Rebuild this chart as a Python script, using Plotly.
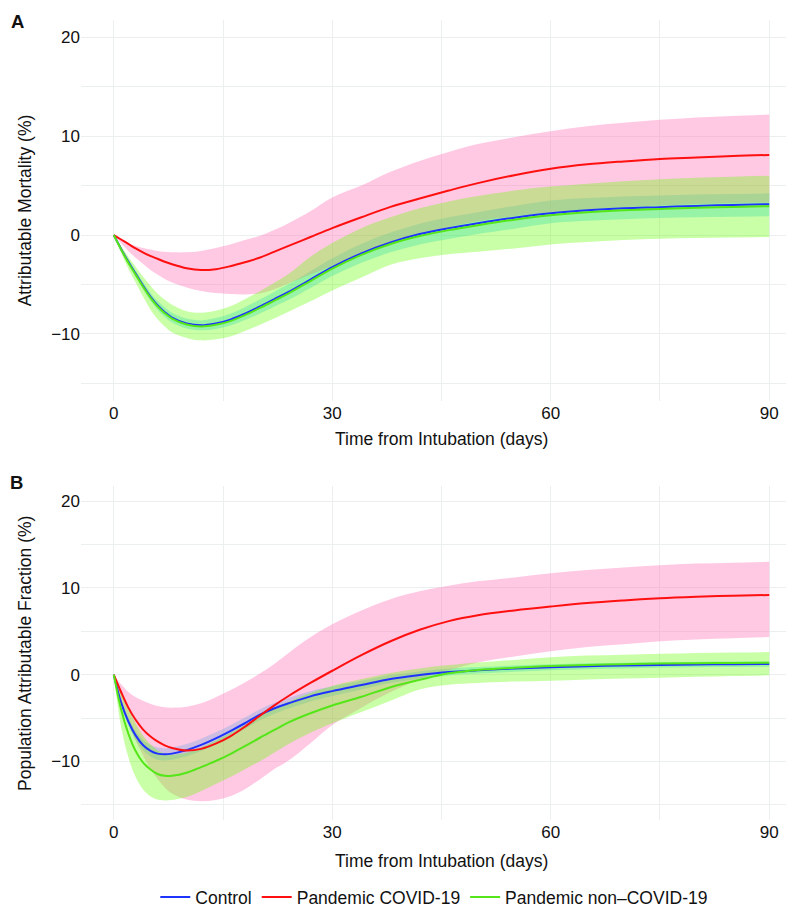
import plotly.graph_objects as go

# ---------------- data ----------------
days = [0, 1, 2, 3, 4, 5, 6, 7, 8, 10, 12, 14, 16, 18, 20, 22, 24, 27, 30, 34,
        38, 42, 46, 50, 55, 60, 65, 70, 75, 80, 85, 90]

series_names = ["Control", "Pandemic COVID-19", "Pandemic non\u2013COVID-19"]

# Panel A: Attributable Mortality (%)
a_control = [0, -1.4, -2.7, -3.9, -5.1, -6.2, -7.1, -7.8, -8.35, -8.95, -9.13, -8.95, -8.55, -7.95,
             -7.25, -6.5, -5.75, -4.5, -3.25, -1.85, -0.75, 0.1, 0.7, 1.2, 1.75, 2.2, 2.5, 2.7, 2.82,
             2.95, 3.05, 3.12]
a_control_hi = [0, -1.25, -2.45, -3.6, -4.75, -5.8, -6.65, -7.3, -7.85, -8.45, -8.63, -8.4, -7.95,
                -7.3, -6.55, -5.75, -4.95, -3.65, -2.35, -0.9, 0.25, 1.15, 1.8, 2.3, 2.95, 3.5,
                3.75, 3.9, 4.0, 4.1, 4.15, 4.22]
a_control_lo = [0, -1.55, -2.95, -4.2, -5.45, -6.6, -7.55, -8.3, -8.85, -9.45, -9.63, -9.5, -9.15,
                -8.6, -7.95, -7.25, -6.55, -5.35, -4.15, -2.8, -1.75, -0.95, -0.4, 0.1, 0.65, 1.2,
                1.45, 1.6, 1.72, 1.8, 1.85, 1.9]
a_covid = [0, -0.45, -0.9, -1.35, -1.75, -2.1, -2.4, -2.7, -2.95, -3.35, -3.54, -3.45, -3.15, -2.75,
           -2.3, -1.7, -1.1, -0.2, 0.7, 1.8, 2.85, 3.7, 4.5, 5.25, 6.05, 6.7, 7.15, 7.45, 7.7, 7.85,
           8.0, 8.1]
a_covid_hi = [0, -0.45, -0.8, -1.1, -1.3, -1.45, -1.6, -1.7, -1.75, -1.75, -1.6, -1.3, -0.95, -0.5,
              -0.1, 0.5, 1.2, 2.4, 3.8, 5.0, 6.4, 7.5, 8.4, 9.2, 9.9, 10.5, 11.0, 11.35, 11.65,
              11.9, 12.05, 12.2]
a_covid_lo = [0, -0.8, -1.6, -2.3, -2.9, -3.5, -4.0, -4.45, -4.8, -5.3, -5.65, -5.85, -5.95, -6.0,
              -5.9, -5.5, -4.9, -4.0, -3.1, -2.0, -0.8, 0.1, 0.8, 1.4, 1.9, 2.3, 2.6, 2.85, 3.0,
              3.15, 3.25, 3.3]
a_noncovid = [0, -1.45, -2.8, -4.0, -5.2, -6.3, -7.2, -7.9, -8.45, -9.05, -9.25, -9.08, -8.7, -8.1,
              -7.4, -6.65, -5.9, -4.65, -3.4, -2.0, -0.9, -0.1, 0.5, 1.0, 1.55, 2.0, 2.3, 2.5,
              2.63, 2.75, 2.85, 2.92]
a_noncovid_hi = [0, -1.1, -2.2, -3.2, -4.2, -5.1, -5.9, -6.55, -7.05, -7.7, -7.85, -7.65, -7.2,
                 -6.5, -5.7, -4.85, -3.95, -2.2, -0.8, 0.7, 1.8, 2.7, 3.4, 3.95, 4.5, 4.9, 5.2,
                 5.45, 5.65, 5.8, 5.9, 6.0]
a_noncovid_lo = [0, -1.8, -3.4, -4.8, -6.2, -7.5, -8.5, -9.25, -9.85, -10.4, -10.65, -10.55,
                 -10.25, -9.7, -9.1, -8.45, -7.75, -6.7, -5.6, -4.3, -3.0, -2.35, -1.95, -1.7,
                 -1.35, -0.95, -0.7, -0.5, -0.37, -0.3, -0.25, -0.2]

# Panel B: Population Attributable Fraction (%)
b_control = [0, -3.2, -5.4, -7.0, -8.1, -8.75, -9.1, -9.18, -9.1, -8.7, -8.1, -7.35, -6.5, -5.6,
             -4.65, -3.9, -3.3, -2.5, -1.9, -1.2, -0.5, -0.05, 0.3, 0.5, 0.7, 0.85, 0.97, 1.05,
             1.12, 1.17, 1.2, 1.22]
b_control_hi = [0, -2.9, -4.95, -6.45, -7.5, -8.1, -8.4, -8.48, -8.4, -8.0, -7.4, -6.65, -5.82,
                -4.94, -4.01, -3.28, -2.7, -1.92, -1.35, -0.7, -0.05, 0.37, 0.7, 0.88, 1.06, 1.2,
                1.31, 1.38, 1.44, 1.49, 1.52, 1.54]
b_control_lo = [0, -3.5, -5.85, -7.55, -8.7, -9.4, -9.8, -9.88, -9.8, -9.4, -8.8, -8.05, -7.18,
                -6.26, -5.29, -4.52, -3.9, -3.08, -2.45, -1.7, -0.95, -0.47, -0.1, 0.12, 0.34,
                0.5, 0.63, 0.72, 0.8, 0.85, 0.88, 0.9]
b_covid = [0, -2.0, -3.8, -5.2, -6.3, -7.1, -7.7, -8.15, -8.45, -8.75, -8.55, -7.95, -7.1, -6.0,
           -4.76, -3.56, -2.46, -0.96, 0.45, 2.25, 3.85, 5.17, 6.17, 6.85, 7.4, 7.85, 8.25, 8.55,
           8.8, 8.97, 9.1, 9.18]
b_covid_hi = [0, -1.1, -2.0, -2.6, -3.0, -3.35, -3.6, -3.75, -3.8, -3.7, -3.3, -2.6, -1.8, -0.9,
              0.1, 1.2, 2.5, 4.3, 5.8, 7.4, 8.7, 9.6, 10.25, 10.75, 11.2, 11.7, 12.05, 12.35,
              12.6, 12.8, 12.9, 13.0]
b_covid_lo = [0, -3.0, -5.5, -7.6, -9.3, -10.8, -12.0, -13.0, -13.7, -14.4, -14.6, -14.45, -14.0,
              -13.2, -12.1, -10.9, -9.9, -7.9, -5.8, -3.8, -2.0, -0.55, 0.5, 1.4, 2.1, 2.7, 3.2,
              3.5, 3.85, 4.05, 4.2, 4.34]
b_noncovid = [0, -4.0, -6.8, -8.8, -10.1, -10.9, -11.45, -11.66, -11.65, -11.3, -10.65, -9.95,
              -9.15, -8.25, -7.3, -6.4, -5.5, -4.45, -3.55, -2.55, -1.45, -0.6, 0.15, 0.55, 0.8,
              1.0, 1.12, 1.2, 1.28, 1.32, 1.35, 1.38]
b_noncovid_hi = [0, -2.0, -3.9, -5.6, -7.0, -8.0, -8.7, -9.1, -9.2, -9.0, -8.4, -7.6, -6.7, -5.8,
                 -4.8, -3.9, -3.1, -2.1, -1.3, -0.5, 0.2, 0.7, 1.1, 1.4, 1.7, 2.0, 2.2, 2.3, 2.4,
                 2.5, 2.55, 2.6]
b_noncovid_lo = [0, -6.0, -9.5, -11.8, -13.2, -14.0, -14.4, -14.5, -14.45, -14.1, -13.4, -12.6,
                 -11.8, -10.9, -10.0, -9.0, -8.0, -6.7, -5.6, -4.3, -3.0, -1.7, -1.15, -0.95, -0.8,
                 -0.7, -0.55, -0.45, -0.35, -0.25, -0.15, -0.08]

x_tickvals = [0, 30, 60, 90]
x_minorvals = [15, 45, 75]
y_tickvals = [-10, 0, 10, 20]
y_minorvals = [-15, -5, 5, 15]

# ---------------- styling ----------------
line_colors = ["#1F33FF", "#FF1010", "#55E619"]
fill_colors = ["rgba(0,200,255,0.30)", "rgba(255,105,180,0.37)", "rgba(100,255,0,0.35)"]
FONT = "Liberation Sans, Arial, Helvetica, sans-serif"

fig = go.Figure()

panels = [
    ("x", "y", [(a_control, a_control_lo, a_control_hi),
                (a_covid, a_covid_lo, a_covid_hi),
                (a_noncovid, a_noncovid_lo, a_noncovid_hi)], False),
    ("x2", "y2", [(b_control, b_control_lo, b_control_hi),
                  (b_covid, b_covid_lo, b_covid_hi),
                  (b_noncovid, b_noncovid_lo, b_noncovid_hi)], True),
]

for xa, ya, groups, show_leg in panels:
    # ribbons first
    for i, (mid, lo, hi) in enumerate(groups):
        fig.add_trace(go.Scatter(x=days, y=lo, xaxis=xa, yaxis=ya, mode="lines",
                                 line=dict(width=0, shape="spline", color=fill_colors[i]),
                                 showlegend=False, hoverinfo="skip"))
        fig.add_trace(go.Scatter(x=days, y=hi, xaxis=xa, yaxis=ya, mode="lines",
                                 line=dict(width=0, shape="spline", color=fill_colors[i]),
                                 fill="tonexty", fillcolor=fill_colors[i],
                                 showlegend=False, hoverinfo="skip"))
    # lines on top
    for i, (mid, lo, hi) in enumerate(groups):
        fig.add_trace(go.Scatter(x=days, y=mid, xaxis=xa, yaxis=ya, mode="lines",
                                 line=dict(width=2, shape="spline", color=line_colors[i]),
                                 name=series_names[i], showlegend=show_leg, legendrank=i + 1))

GRID = "#EBEFEF"
def xaxis_cfg(anchor):
    return dict(anchor=anchor, range=[-4.5, 94.5], tickvals=x_tickvals, showgrid=True,
                gridcolor=GRID, gridwidth=1, zeroline=False, showline=False, ticks="",
                tickfont=dict(size=17, color="#111", family=FONT),
                minor=dict(tickvals=x_minorvals, showgrid=True, gridcolor=GRID, gridwidth=0.6))

def yaxis_cfg(anchor, domain):
    return dict(anchor=anchor, domain=domain, range=[-16.75, 21.75], tickvals=y_tickvals,
                showgrid=True, gridcolor=GRID, gridwidth=1, zeroline=False, showline=False,
                ticks="", tickfont=dict(size=17, color="#111", family=FONT),
                minor=dict(tickvals=y_minorvals, showgrid=True, gridcolor=GRID, gridwidth=0.6))

fig.update_layout(
    width=794, height=907,
    margin=dict(l=73, r=0, t=12, b=88),
    paper_bgcolor="white", plot_bgcolor="white",
    font=dict(family=FONT, size=17.5, color="#111"),
    xaxis=xaxis_cfg("y"),
    yaxis=yaxis_cfg("x", [0.52416, 1.0]),
    xaxis2=xaxis_cfg("y2"),
    yaxis2=yaxis_cfg("x2", [0.0, 0.4176]),
    showlegend=True,
    legend=dict(orientation="h", x=0.49, xanchor="center", y=-0.0967, yanchor="middle",
                traceorder="normal",
                font=dict(size=17.5, family=FONT, color="#111"), itemwidth=30,
                bgcolor="rgba(0,0,0,0)"),
    hovermode=False,
)

ann = [
    dict(text="<b>A</b>", x=-0.0874, y=0.9984),
    dict(text="<b>B</b>", x=-0.0897, y=0.4219),
    dict(text="Attributable Mortality (%)", x=-0.0777, y=(0.52416 + 1) / 2, textangle=-90),
    dict(text="Population Attributable Fraction (%)", x=-0.0777, y=0.4176 / 2, textangle=-90),
    dict(text="Time from Intubation (days)", x=0.5, y=0.4758),
    dict(text="Time from Intubation (days)", x=0.5, y=-0.0508),
]
for a in ann:
    fig.add_annotation(xref="paper", yref="paper", showarrow=False, xanchor="center",
                       yanchor="middle", font=dict(size=18.5 if "<b>" in a["text"] else 17.5,
                                                   family=FONT, color="#111"), **a)

fig.write_html("out.html")
